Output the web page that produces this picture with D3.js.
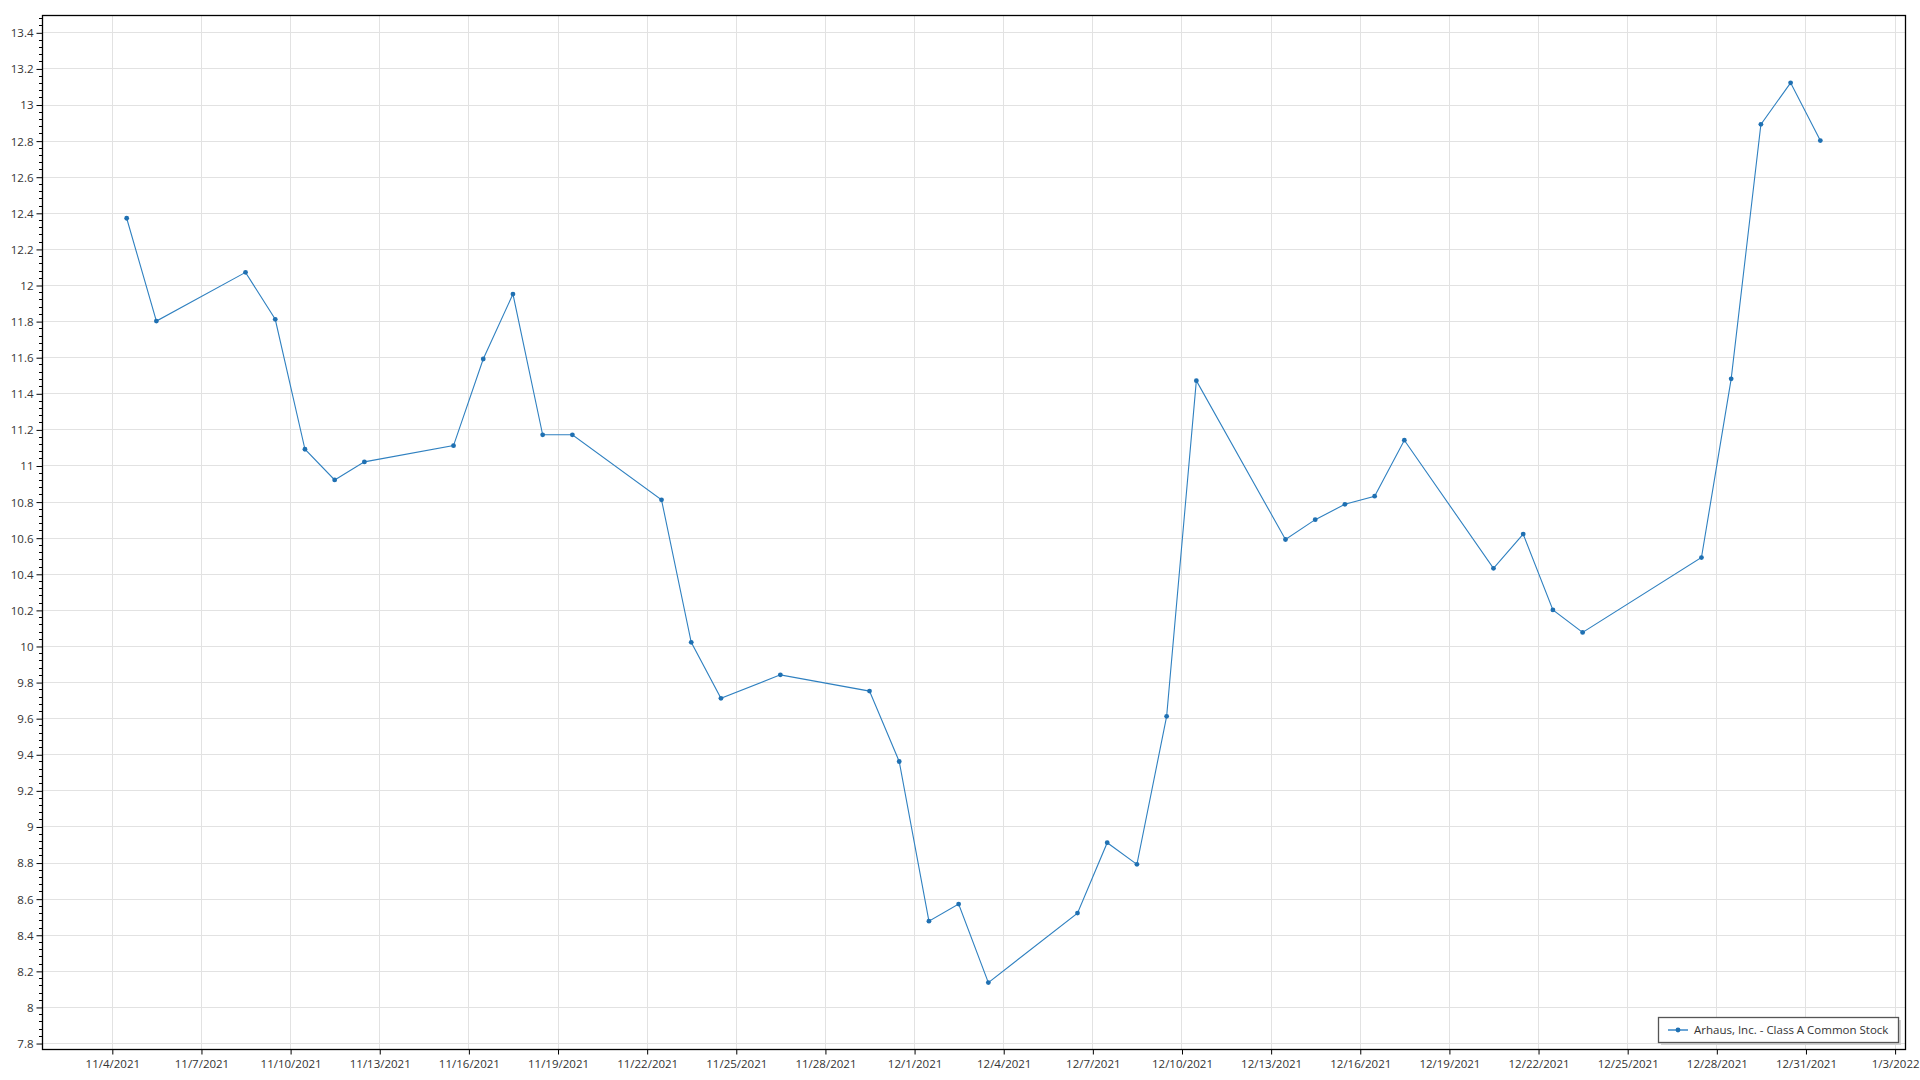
<!DOCTYPE html>
<html>
<head>
<meta charset="utf-8">
<script src="https://cdn.jsdelivr.net/npm/d3@7"></script>
<style>
  html, body { margin: 0; padding: 0; background: #fff; }
  svg { display: block; }
  text { font-family: "Open Sans", "Noto Sans", sans-serif; }
</style>
</head>
<body>
<svg id="chart" width="1920" height="1080"></svg>
<script>
// ---- data ----
const seriesName = "Arhaus, Inc. - Class A Common Stock";
const dates = [
  "2021-11-04","2021-11-05","2021-11-08","2021-11-09","2021-11-10","2021-11-11","2021-11-12",
  "2021-11-15","2021-11-16","2021-11-17","2021-11-18","2021-11-19",
  "2021-11-22","2021-11-23","2021-11-24","2021-11-26",
  "2021-11-29","2021-11-30","2021-12-01","2021-12-02","2021-12-03",
  "2021-12-06","2021-12-07","2021-12-08","2021-12-09","2021-12-10",
  "2021-12-13","2021-12-14","2021-12-15","2021-12-16","2021-12-17",
  "2021-12-20","2021-12-21","2021-12-22","2021-12-23",
  "2021-12-27","2021-12-28","2021-12-29","2021-12-30","2021-12-31"
];
const prices = [
  12.37, 11.80, 12.07, 11.81, 11.09, 10.92, 11.02,
  11.11, 11.59, 11.95, 11.17, 11.17,
  10.81, 10.02, 9.71, 9.84,
  9.75, 9.36, 8.475, 8.57, 8.135,
  8.52, 8.91, 8.79, 9.61, 11.47,
  10.59, 10.70, 10.785, 10.83, 11.14,
  10.43, 10.62, 10.20, 10.075,
  10.49, 11.48, 12.89, 13.12, 12.80
];
const xTickDates = [
  "2021-11-04","2021-11-07","2021-11-10","2021-11-13","2021-11-16","2021-11-19",
  "2021-11-22","2021-11-25","2021-11-28","2021-12-01","2021-12-04","2021-12-07",
  "2021-12-10","2021-12-13","2021-12-16","2021-12-19","2021-12-22","2021-12-25",
  "2021-12-28","2021-12-31","2022-01-03"
];
const yTickValues = [7.8, 8, 8.2, 8.4, 8.6, 8.8, 9, 9.2, 9.4, 9.6, 9.8, 10, 10.2, 10.4,
  10.6, 10.8, 11, 11.2, 11.4, 11.6, 11.8, 12, 12.2, 12.4, 12.6, 12.8, 13, 13.2, 13.4];
const yDomain = [7.767, 13.496];

// ---- layout ----
const W = 1920, H = 1080;
const plot = { left: 42, top: 15, right: 1905, bottom: 1049 };
const parseDay = d3.timeParse("%Y-%m-%d");
const pointTime = s => d3.timeHour.offset(parseDay(s), 12);
const data = dates.map((d, i) => ({ t: pointTime(d), v: prices[i] }));

const tExt = d3.extent(data, d => d.t);
const span = tExt[1] - tExt[0];
const x = d3.scaleTime()
  .domain([new Date(+tExt[0] - span * 0.05), new Date(+tExt[1] + span * 0.05)])
  .range([plot.left, plot.right]);
const y = d3.scaleLinear().domain(yDomain).range([plot.bottom, plot.top]);

const svg = d3.select("#chart");
const textColor = "#333";
const gridColor = "#e2e2e2";

// grid
const grid = svg.append("g");
grid.selectAll("line.gx").data(xTickDates.map(parseDay)).join("line")
  .attr("x1", d => Math.round(x(d)) + 0.5).attr("x2", d => Math.round(x(d)) + 0.5)
  .attr("y1", plot.top).attr("y2", plot.bottom)
  .attr("stroke", gridColor).attr("stroke-width", 1);
grid.selectAll("line.gy").data(yTickValues).join("line")
  .attr("y1", d => Math.round(y(d)) + 0.5).attr("y2", d => Math.round(y(d)) + 0.5)
  .attr("x1", plot.left).attr("x2", plot.right)
  .attr("stroke", gridColor).attr("stroke-width", 1);

// y minor ticks
const minor = [];
for (let i = 0; i < yTickValues.length; i++) {
  for (let k = -4; k <= 4; k++) {
    if (k === 0) continue;
    const v = +(yTickValues[i] + k * 0.04).toFixed(2);
    if (v > yDomain[0] && v < yDomain[1] && !minor.includes(v) && !yTickValues.includes(v)) minor.push(v);
  }
}
svg.append("g").selectAll("line").data(minor).join("line")
  .attr("x1", plot.left - 3).attr("x2", plot.left)
  .attr("y1", d => Math.round(y(d)) + 0.5).attr("y2", d => Math.round(y(d)) + 0.5)
  .attr("stroke", "#000").attr("stroke-width", 1);

// y axis
const yAxis = d3.axisLeft(y).tickValues(yTickValues).tickSize(6).tickPadding(3)
  .tickFormat(d => String(+d.toFixed(1)));
const gy = svg.append("g").attr("transform", `translate(${plot.left + 0.5},0.5)`).call(yAxis);
gy.select(".domain").remove();
gy.selectAll("line").attr("stroke", "#000");
gy.selectAll("text").attr("fill", textColor).attr("font-size", 11.5).attr("dy", "0.34em");

// x axis
const fmt = d3.timeFormat("%-m/%-d/%Y");
const xAxis = d3.axisBottom(x).tickValues(xTickDates.map(parseDay)).tickSize(5).tickPadding(5)
  .tickFormat(fmt);
const gx = svg.append("g").attr("transform", `translate(0.5,${plot.bottom + 0.5})`).call(xAxis);
gx.select(".domain").remove();
gx.selectAll("line").attr("stroke", "#000");
gx.selectAll("text").attr("fill", textColor).attr("font-size", 11.5);

// frame
svg.append("rect")
  .attr("x", plot.left + 0.5).attr("y", plot.top + 0.5)
  .attr("width", plot.right - plot.left).attr("height", plot.bottom - plot.top)
  .attr("fill", "none").attr("stroke", "#000").attr("stroke-width", 1.3);

// series
const lineColor = "#2f80c0";
const dotColor = "#1f70b2";
const line = d3.line().x(d => x(d.t)).y(d => y(d.v));
svg.append("path").datum(data)
  .attr("d", line).attr("fill", "none")
  .attr("stroke", lineColor).attr("stroke-width", 1.1);
svg.append("g").selectAll("circle").data(data).join("circle")
  .attr("cx", d => x(d.t)).attr("cy", d => y(d.v)).attr("r", 2.4)
  .attr("fill", dotColor);

// legend
const lg = { x: 1658, y: 1017, w: 240, h: 25 };
svg.append("rect").attr("x", lg.x + 3).attr("y", lg.y + 3).attr("width", lg.w).attr("height", lg.h)
  .attr("fill", "#d4d4d4");
svg.append("rect").attr("x", lg.x + 0.5).attr("y", lg.y + 0.5).attr("width", lg.w).attr("height", lg.h)
  .attr("fill", "#fff").attr("stroke", "#555").attr("stroke-width", 1.3);
svg.append("line").attr("x1", lg.x + 10).attr("x2", lg.x + 30)
  .attr("y1", lg.y + 13).attr("y2", lg.y + 13)
  .attr("stroke", "#6aa5d6").attr("stroke-width", 2);
svg.append("circle").attr("cx", lg.x + 20).attr("cy", lg.y + 13).attr("r", 2.4).attr("fill", dotColor);
svg.append("text").attr("x", lg.x + 36).attr("y", lg.y + 13).attr("dy", "0.35em")
  .attr("font-size", 11.5).attr("fill", textColor).text(seriesName);
</script>
</body>
</html>
